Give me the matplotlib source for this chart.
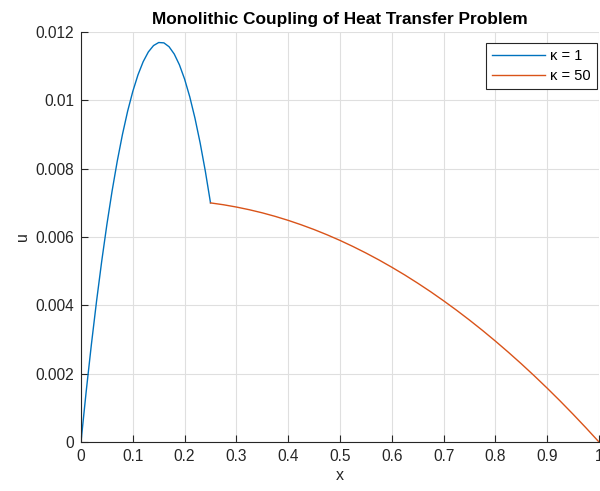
import matplotlib
matplotlib.use("Agg")
import matplotlib.pyplot as plt

plt.rcParams['font.family'] = ['Liberation Sans', 'DejaVu Sans']

x_k1 = [0.00, 0.01, 0.02, 0.03, 0.04, 0.05, 0.06, 0.07, 0.08, 0.09, 0.10, 0.11, 0.12,
        0.13, 0.14, 0.15, 0.16, 0.17, 0.18, 0.19, 0.20, 0.21, 0.22, 0.23, 0.24, 0.25]
u_k1 = [0.0, 0.001477, 0.002848, 0.004120, 0.005293, 0.006368, 0.007344, 0.008221,
        0.009000, 0.009681, 0.010262, 0.010746, 0.011130, 0.011416, 0.011603, 0.011692,
        0.011682, 0.011569, 0.011355, 0.011039, 0.010621, 0.010101, 0.009478, 0.008754,
        0.007928, 0.007000]

x_k50 = [0.250, 0.275, 0.300, 0.325, 0.350, 0.375, 0.400, 0.425, 0.450, 0.475,
         0.500, 0.525, 0.550, 0.575, 0.600, 0.625, 0.650, 0.675, 0.700, 0.725,
         0.750, 0.775, 0.800, 0.825, 0.850, 0.875, 0.900, 0.925, 0.950, 0.975, 1.000]
u_k50 = [0.006998, 0.006944, 0.006877, 0.006798, 0.006707, 0.006603, 0.006487,
         0.006358, 0.006218, 0.006065, 0.005900, 0.005722, 0.005532, 0.005330,
         0.005115, 0.004889, 0.004649, 0.004398, 0.004133, 0.003857, 0.003568,
         0.003267, 0.002953, 0.002627, 0.002289, 0.001938, 0.001575, 0.001200,
         0.000812, 0.000412, 0.0]

labels = ['\u03ba = 1', '\u03ba = 50']
title = 'Monolithic Coupling of Heat Transfer Problem'
xticks = [0, 0.1, 0.2, 0.3, 0.4, 0.5, 0.6, 0.7, 0.8, 0.9, 1]
xticklabels = ['0', '0.1', '0.2', '0.3', '0.4', '0.5', '0.6', '0.7', '0.8', '0.9', '1']
yticks = [0, 0.002, 0.004, 0.006, 0.008, 0.010, 0.012]
yticklabels = ['0', '0.002', '0.004', '0.006', '0.008', '0.01', '0.012']

fig = plt.figure(figsize=(6.0, 4.91), dpi=100)
ax = fig.add_axes([81/600, 1-442/491, 518/600, 410/491])

ax.plot(x_k1, u_k1, color='#0072BD', lw=1.0, label=labels[0])
ax.plot(x_k50, u_k50, color='#D95319', lw=1.0, label=labels[1])

ax.set_xlim(0, 1)
ax.set_ylim(0, 0.012)
ax.set_xticks(xticks)
ax.set_xticklabels(xticklabels)
ax.set_yticks(yticks)
ax.set_yticklabels(yticklabels)

ax.grid(True, color='#dfdfdf', lw=0.8)
ax.set_axisbelow(True)
for s in ['top', 'right']:
    ax.spines[s].set_visible(False)
for s in ['left', 'bottom']:
    ax.spines[s].set_color('#262626')
    ax.spines[s].set_linewidth(0.8)
ax.tick_params(direction='in', length=5, width=0.8, colors='#262626', labelsize=11.2,
               labelcolor='#262626', pad=5)

ax.set_xlabel('x', fontsize=11.5, color='#262626', labelpad=3)
ax.set_ylabel('u', fontsize=11.5, color='#262626', labelpad=4)
ax.set_title(title, fontsize=12.4, fontweight='bold', color='black', pad=6)

leg = ax.legend(loc='upper right', bbox_to_anchor=(0.996, 0.973), fontsize=10.5,
                fancybox=False, framealpha=1, edgecolor='#262626', handlelength=3.6,
                borderaxespad=0.0, handletextpad=0.4, labelspacing=0.42, borderpad=0.4)
leg.get_frame().set_linewidth(0.8)

fig.savefig('out.png', dpi=100)
